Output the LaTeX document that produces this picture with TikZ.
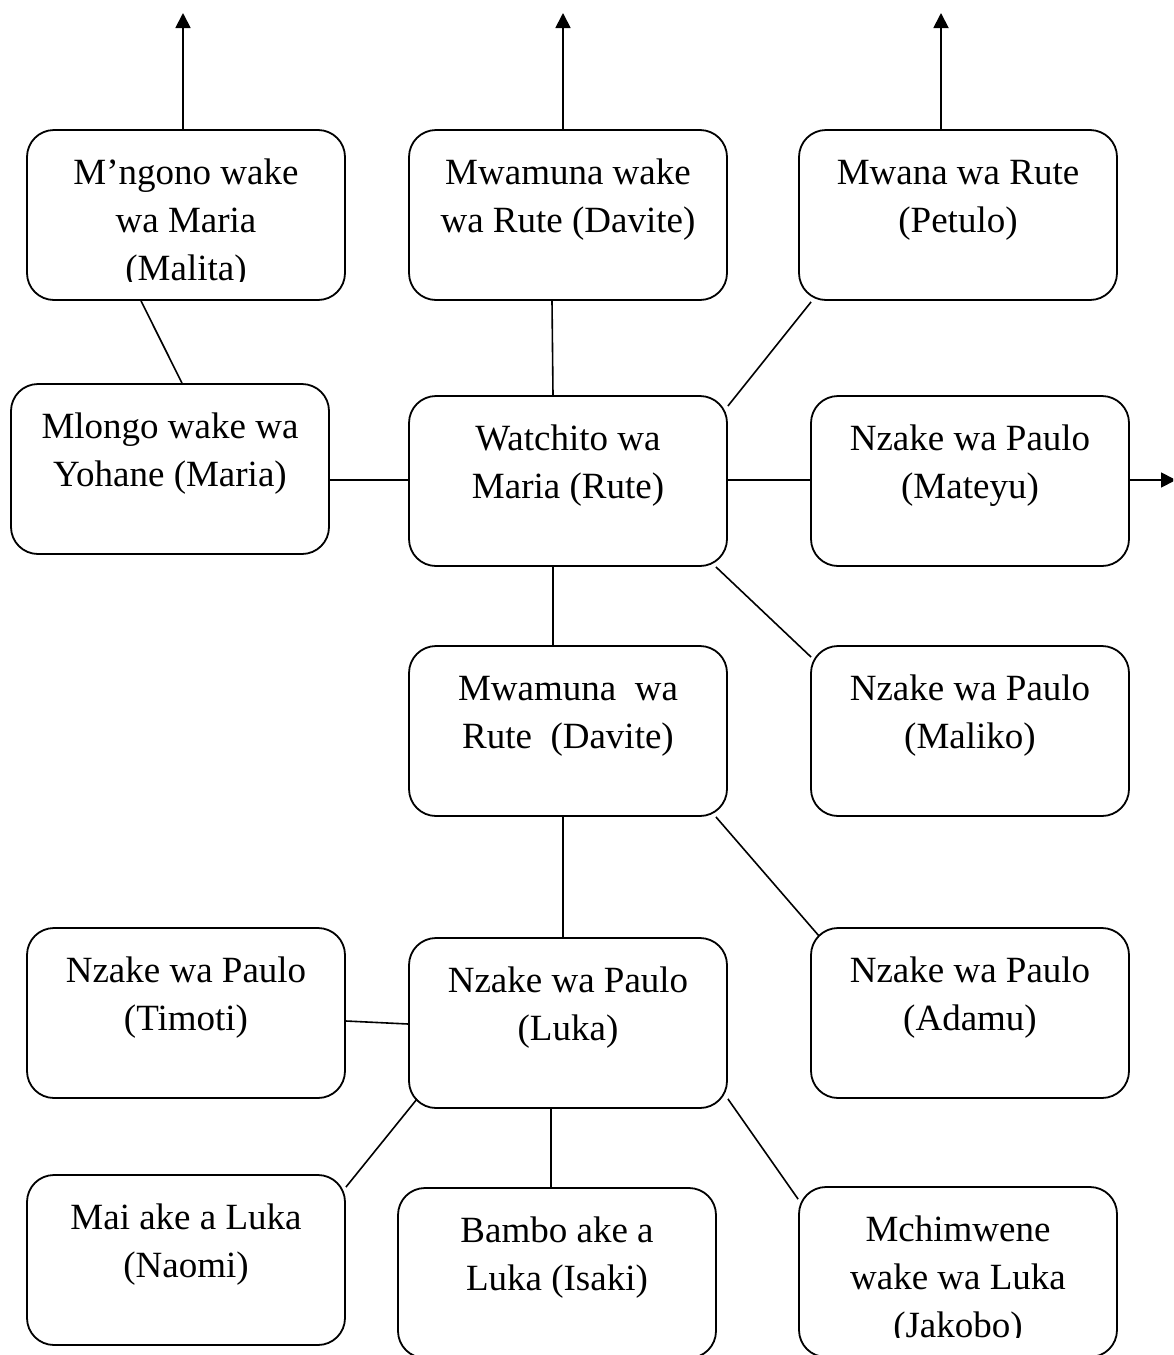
\documentclass[tikz,border=0pt]{standalone}
\usepackage{fontspec}
\setmainfont{Liberation Serif}
\usetikzlibrary{arrows.meta}
\begin{document}
\begin{tikzpicture}[x=1pt,y=-1pt,
  famblock/.style={draw, line width=1.8pt, rounded corners=27pt,
    minimum width=318pt, minimum height=170pt, inner sep=0pt},
  famlabel/.style={anchor=north, align=center, inner sep=0pt,
    font=\fontsize{37}{48}\selectfont},
  link/.style={line width=1.6pt},
  outarrow/.style={line width=1.8pt, -{Triangle[length=15pt,width=15pt]}}]
\useasboundingbox (0,0) rectangle (1173,1355);
\clip (0,0) rectangle (1173,1355);

% boxes
\node[famblock] (A) at (186,215) {};
\node[famblock] (B) at (568,215) {};
\node[famblock] (C) at (958,215) {};
\node[famblock] (D) at (170,469) {};
\node[famblock] (E) at (568,481) {};
\node[famblock] (F) at (970,481) {};
\node[famblock] (G) at (568,731) {};
\node[famblock] (H) at (970,731) {};
\node[famblock] (I) at (186,1013) {};
\node[famblock] (J) at (568,1023) {};
\node[famblock] (K) at (970,1013) {};
\node[famblock] (L) at (186,1260) {};
\node[famblock] (M) at (557,1273) {};
\node[famblock] (N) at (958,1272) {};

% labels (three-line labels are cut off at the text area's lower edge)
\begin{scope}
  \clip ([yshift=19pt]A.south west) rectangle (A.north east);
  \node[famlabel] (tA) at ([yshift=-21.4pt]A.north) {\strut M’ngono wake\\wa Maria\\(Malita)};
\end{scope}
\begin{scope}
  \clip ([yshift=20pt]N.south west) rectangle (N.north east);
  \node[famlabel] (tN) at ([yshift=-21.4pt]N.north) {\strut Mchimwene\\wake wa Luka\\(Jakobo)};
\end{scope}
\node[famlabel] (tB) at ([yshift=-21.4pt]B.north) {\strut Mwamuna wake\\wa Rute (Davite)};
\node[famlabel] (tC) at ([yshift=-21.4pt]C.north) {\strut Mwana wa Rute\\(Petulo)};
\node[famlabel] (tD) at ([yshift=-21.4pt]D.north) {\strut Mlongo wake wa\\Yohane (Maria)};
\node[famlabel] (tE) at ([yshift=-21.4pt]E.north) {\strut Watchito wa\\Maria (Rute)};
\node[famlabel] (tF) at ([yshift=-21.4pt]F.north) {\strut Nzake wa Paulo\\(Mateyu)};
\node[famlabel] (tG) at ([yshift=-21.4pt]G.north) {\strut Mwamuna~~wa\\Rute~~(Davite)};
\node[famlabel] (tH) at ([yshift=-21.4pt]H.north) {\strut Nzake wa Paulo\\(Maliko)};
\node[famlabel] (tI) at ([yshift=-21.4pt]I.north) {\strut Nzake wa Paulo\\(Timoti)};
\node[famlabel] (tJ) at ([yshift=-21.4pt]J.north) {\strut Nzake wa Paulo\\(Luka)};
\node[famlabel] (tK) at ([yshift=-21.4pt]K.north) {\strut Nzake wa Paulo\\(Adamu)};
\node[famlabel] (tL) at ([yshift=-21.4pt]L.north) {\strut Mai ake a Luka\\(Naomi)};
\node[famlabel] (tM) at ([yshift=-21.4pt]M.north) {\strut Bambo ake a\\Luka (Isaki)};

% outgoing arrows
\coordinate (upA) at (183,13);
\coordinate (upB) at (563,13);
\coordinate (upC) at (941,13);
\coordinate (outF) at (1176,480);
\draw[outarrow] ([xshift=-3pt]A.north) -- (upA);
\draw[outarrow] ([xshift=-5pt]B.north) -- (upB);
\draw[outarrow] ([xshift=-17pt]C.north) -- (upC);
\draw[outarrow] ([yshift=1pt]F.east) -- (outF);

% connectors
\draw[link] ([xshift=-45pt]A.south) -- ([xshift=12pt]D.north);
\draw[link] ([xshift=-16pt]B.south) -- ([xshift=-15pt]E.north);
\draw[link] ([xshift=13pt,yshift=-1pt]C.south west) -- ([yshift=75pt]E.east);
\draw[link] ([yshift=-11pt]D.east) -- ([yshift=1pt]E.west);
\draw[link] ([yshift=1pt]E.east) -- ([yshift=1pt]F.west);
\draw[link] ([xshift=-15pt]E.south) -- ([xshift=-15pt]G.north);
\draw[link] ([xshift=-12pt]E.south east) -- ([xshift=1pt,yshift=-12pt]H.north west);
\draw[link] ([xshift=-5pt]G.south) -- ([xshift=-5pt]J.north);
\draw[link] ([xshift=-12pt]G.south east) -- ([xshift=9pt,yshift=-9pt]K.north west);
\draw[link] ([yshift=-8pt]I.east) -- ([yshift=-1pt]J.west);
\draw[link] ([xshift=9pt,yshift=10pt]J.south west) -- ([yshift=-13pt]L.north east);
\draw[link] ([xshift=-17pt]J.south) -- ([xshift=-6pt]M.north);
\draw[link] ([yshift=10pt]J.south east) -- ([yshift=-13pt]N.north west);
\end{tikzpicture}
\end{document}
